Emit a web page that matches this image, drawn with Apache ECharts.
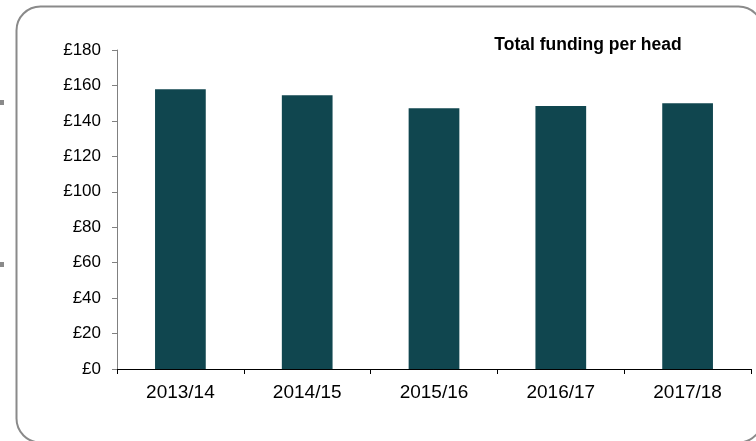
<!DOCTYPE html>
<html>
<head>
<meta charset="utf-8">
<script src="https://cdn.jsdelivr.net/npm/echarts@6/dist/echarts.min.js"></script>
<style>
html,body{margin:0;padding:0;background:#fff;}
#chart{width:756px;height:441px;}
</style>
</head>
<body>
<div id="chart"></div>
<script>
const categories = ['2013/14', '2014/15', '2015/16', '2016/17', '2017/18'];
const fundingPerHead = [157.8, 154.5, 147.1, 148.4, 150.0];
const chartTitle = 'Total funding per head';

const chart = echarts.init(document.getElementById('chart'), null, {renderer: 'canvas'});
const font = '"Liberation Sans", Arial, sans-serif';
chart.setOption({
  animation: false,
  backgroundColor: '#ffffff',
  title: {
    text: chartTitle,
    left: 583, top: 31, textAlign: 'center',
    textStyle: {fontFamily: font, fontSize: 17.5, fontWeight: 'bold', color: '#000'}
  },
  graphic: [
    {type: 'rect', shape: {x: 16.5, y: 6.5, width: 746, height: 436, r: 24},
     style: {fill: 'none', stroke: '#8a8a8a', lineWidth: 2}, z: -1},
    {type: 'rect', shape: {x: 0, y: 100, width: 4, height: 5}, style: {fill: '#8a8a8a'}},
    {type: 'rect', shape: {x: 0, y: 262, width: 4, height: 5}, style: {fill: '#8a8a8a'}}
  ],
  grid: {left: 117, right: 5, top: 50, bottom: 72, containLabel: false},
  xAxis: {
    type: 'category',
    data: categories,
    boundaryGap: true,
    axisLine: {lineStyle: {color: '#000', width: 1}},
    axisTick: {show: true, alignWithLabel: false, length: 5, lineStyle: {color: '#000'}},
    axisLabel: {fontFamily: font, fontSize: 19, color: '#000', margin: 14}
  },
  yAxis: {
    type: 'value',
    min: 0, max: 180, interval: 20,
    axisLine: {show: true, lineStyle: {color: '#808080', width: 1}},
    axisTick: {show: true, length: 5, lineStyle: {color: '#808080'}},
    splitLine: {show: false},
    axisLabel: {fontFamily: font, fontSize: 17, color: '#000', margin: 16,
      formatter: v => '£' + v}
  },
  series: [{
    type: 'bar',
    data: fundingPerHead,
    barWidth: '40%',
    itemStyle: {color: '#10464F'}
  }]
});
</script>
</body>
</html>
